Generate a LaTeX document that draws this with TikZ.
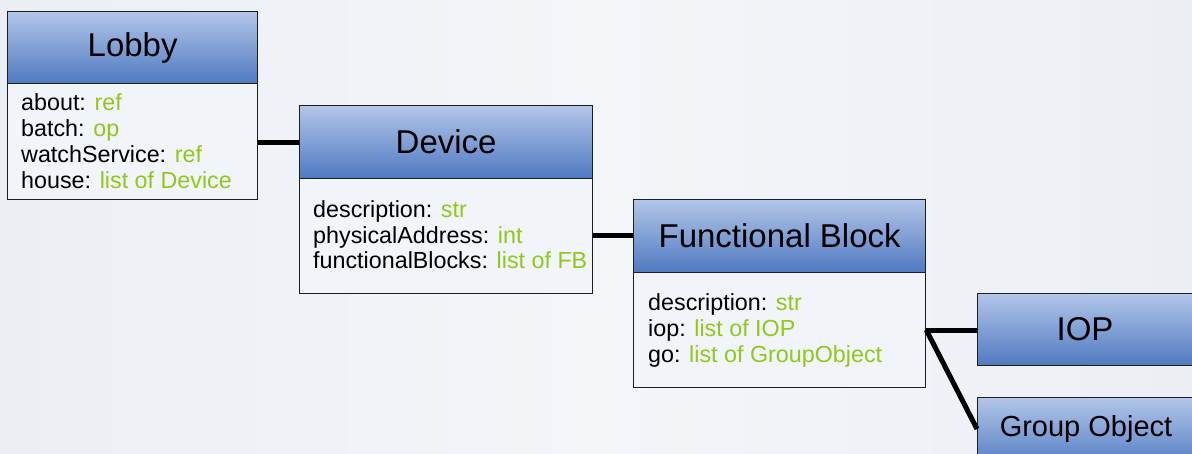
\documentclass[tikz,border=0pt]{standalone}
\usepackage{fontspec}
\setmainfont{Liberation Sans}
\usetikzlibrary{positioning}
\definecolor{bgtone}{HTML}{EBEEF3}
\definecolor{bgpale}{HTML}{F3F6F9}
\definecolor{hdrtop}{HTML}{B2C6E8}
\definecolor{hdrbot}{HTML}{4F79C1}
\definecolor{bodyfill}{HTML}{F1F4F8}
\definecolor{typegreen}{HTML}{92C81A}
\definecolor{edge}{HTML}{1E1E1E}
\tikzset{
  classhead/.style={draw=edge, line width=1.3pt, top color=hdrtop, bottom color=hdrbot,
    anchor=north west, inner sep=0pt, font=\fontsize{33}{36}\selectfont},
  classbody/.style={draw=edge, line width=1.3pt, fill=bodyfill, anchor=north west, inner sep=0pt},
  attr/.style={anchor=base west, inner sep=0pt, font=\fontsize{23.3}{26}\selectfont},
  link/.style={line width=5pt, black},
}
\newcommand{\ty}[1]{\textcolor{typegreen}{#1}}
\begin{document}
\begin{tikzpicture}[x=1pt,y=-1pt]
  \useasboundingbox (0,0) rectangle (1192,453);
  \clip (0,0) rectangle (1192,453);
  % backdrop
  \fill[left color=bgtone, right color=bgtone, middle color=bgpale] (0,0) rectangle (1192,453);

  % Lobby
  \node[classhead, minimum width=250pt, minimum height=72pt] (lobbyH) at (7,11) {Lobby};
  \node[classbody, minimum width=250pt, minimum height=116pt] (lobbyB) at (7,83) {};
  \node[attr] (l1) at (21,110) {about: \ty{ref}};
  \node[attr] (l2) at (21,136) {batch: \ty{op}};
  \node[attr] (l3) at (21,162) {watchService: \ty{ref}};
  \node[attr] (l4) at (21,188) {house: \ty{list of Device}};

  % Device
  \node[classhead, minimum width=293pt, minimum height=73pt] (devH) at (299,105) {Device};
  \node[classbody, minimum width=293pt, minimum height=115pt] (devB) at (299,178) {};
  \node[attr] (d1) at (313,217) {description: \ty{str}};
  \node[attr] (d2) at (313,243) {physicalAddress: \ty{int}};
  \node[attr] (d3) at (313,268) {functionalBlocks: \ty{list of FB}};

  % Functional Block
  \node[classhead, minimum width=292pt, minimum height=73pt] (fbH) at (633,199) {Functional Block};
  \node[classbody, minimum width=292pt, minimum height=115pt] (fbB) at (633,272) {};
  \node[attr] (f1) at (648,310) {description: \ty{str}};
  \node[attr] (f2) at (648,336) {iop: \ty{list of IOP}};
  \node[attr] (f3) at (648,362) {go: \ty{list of GroupObject}};

  % IOP and Group Object
  \node[classhead, minimum width=240pt, minimum height=72pt] (iopH) at (977,293) {};
  \node[font=\fontsize{33}{36}\selectfont, inner sep=0pt] (iopT) at (1085,329) {IOP};
  \node[classhead, minimum width=240pt, minimum height=72pt] (goH) at (977,397) {};
  \node[font=\fontsize{29}{32}\selectfont, inner sep=0pt] (goT) at (1086,429) {Group Object};

  % connectors
  \coordinate (lobbyOut) at (lobbyB.east |- 0,142);
  \coordinate (devIn) at (devH.west |- 0,142);
  \draw[link] (lobbyOut) -- (devIn);
  \coordinate (devOut) at (devB.east |- 0,235);
  \coordinate (fbIn) at (fbH.west |- 0,235);
  \draw[link] (devOut) -- (fbIn);
  \coordinate (fork) at (fbB.east |- 0,330);
  \coordinate (iopIn) at (iopH.west |- 0,330);
  \coordinate (goIn) at (goH.west |- 0,429);
  \draw[link] (fork) -- (iopIn);
  \draw[link] (fork) -- (goIn);
\end{tikzpicture}
\end{document}
